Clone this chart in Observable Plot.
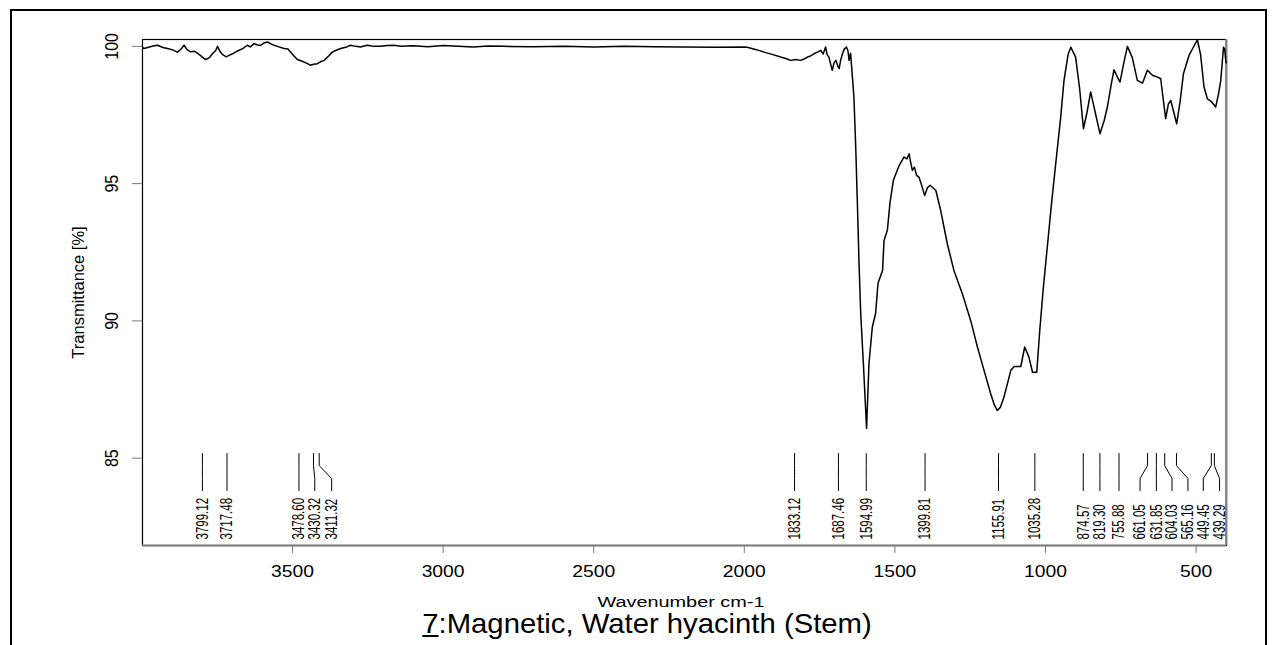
<!DOCTYPE html>
<html><head><meta charset="utf-8">
<script src="https://cdn.jsdelivr.net/npm/d3@7"></script>
<script src="https://cdn.jsdelivr.net/npm/@observablehq/plot@0.6"></script>
<style>
html,body{margin:0;padding:0;background:#fff;}
#wrap{position:relative;width:1276px;height:645px;overflow:hidden;font-family:"Liberation Sans",Arial,sans-serif;}
#border{position:absolute;left:10px;top:9px;width:1257px;height:700px;border:2px solid #000;box-sizing:border-box;}
#chart{position:absolute;left:0;top:0;}
#caption{position:absolute;left:646.7px;top:610px;font-size:28px;line-height:28px;white-space:nowrap;transform:translateX(-50%) scaleX(1.045);color:#000;}
</style>
</head><body>
<div id="wrap"><div id="border"></div><div id="chart"></div>
<div id="caption"><u>7</u>:Magnetic, Water hyacinth (Stem)</div></div>
<script>
const wavenumber = [3997,3993,3975,3960,3948,3930,3915,3900,3882,3870,3860,3850,3838,3825,3810,3798,3788,3775,3766,3755,3749,3740,3733,3720,3711,3695,3683,3665,3650,3640,3628,3615,3606,3595,3583,3570,3561,3545,3528,3515,3506,3495,3484,3470,3462,3450,3440,3430,3417,3405,3395,3380,3368,3355,3340,3320,3307,3290,3274,3260,3251,3230,3207,3185,3163,3140,3100,3050,3000,2950,2900,2850,2800,2700,2600,2500,2400,2300,2200,2100,2000,1990,1960,1934,1905,1879,1860,1846,1830,1813,1800,1790,1780,1769,1755,1746,1738,1730,1725,1719,1712,1708,1702,1696,1690,1685,1680,1674,1668,1661,1656,1652,1647,1636,1630,1624.5,1619,1613.5,1604.6,1594,1586,1575,1564,1556,1541,1536,1525,1516,1505,1486,1470,1460,1453,1448,1442,1435,1428,1420,1410,1401,1392,1383,1364,1348,1326,1304,1276,1248,1226,1204,1182,1170,1160,1150,1138,1115,1104,1082,1069,1055,1043,1029,1019,1008,994,980,966,949.5,938.5,925,916,900,887,874,862,850,835,819,805,794.5,782,772.5,762,752.6,740,728,712,695,678,661.6,645,628,617.5,601,592,584,574,564.4,553,542,523.5,510,495.6,485,473.7,462.4,450,435,425,418,409,405,401.6,400];
const transmittance = [99.95,99.92,99.98,100.02,100.04,99.96,99.92,99.88,99.79,99.90,100.04,99.88,99.80,99.82,99.71,99.60,99.52,99.60,99.73,99.85,100.00,99.80,99.71,99.62,99.67,99.75,99.83,99.92,100.04,99.98,100.10,100.05,100.04,100.12,100.16,100.08,100.04,99.98,99.92,99.90,99.79,99.65,99.52,99.47,99.43,99.37,99.31,99.35,99.37,99.45,99.49,99.65,99.79,99.86,99.92,99.98,100.04,100.00,99.98,100.02,100.04,100.00,100.00,100.03,100.04,100.00,100.02,99.99,100.03,100.00,99.98,100.01,100.00,99.99,100.00,99.98,100.00,99.99,99.98,99.97,99.98,99.97,99.88,99.79,99.70,99.61,99.55,99.49,99.52,99.49,99.55,99.61,99.65,99.73,99.80,99.85,99.72,99.98,99.70,99.61,99.30,99.13,99.40,99.49,99.30,99.19,99.50,99.73,99.90,99.98,99.85,99.49,99.75,98.15,96.33,94.28,92.10,90.27,88.45,86.08,88.45,89.77,90.27,91.37,91.84,92.93,93.30,94.33,95.12,95.66,95.97,95.90,96.09,95.80,95.48,95.60,95.30,95.24,94.90,94.57,94.85,94.94,94.75,94.03,92.81,91.84,90.99,90.00,89.05,88.20,87.35,86.95,86.74,86.85,87.22,88.20,88.34,88.34,89.05,88.68,88.13,88.13,89.65,91.11,92.69,94.27,95.73,97.42,98.76,99.70,99.97,99.61,98.50,97.00,97.60,98.34,97.60,96.82,97.30,97.79,98.60,99.15,98.90,98.70,99.40,100.00,99.60,98.76,98.66,99.13,98.95,98.88,98.82,97.37,97.90,98.03,97.60,97.18,98.00,99.00,99.67,99.95,100.24,99.70,98.52,98.09,98.00,97.79,98.30,98.76,99.97,99.90,99.49,99.40];
const peaks = [3799.12,3717.48,3478.60,3430.32,3411.32,1833.12,1687.46,1594.99,1399.81,1155.91,1035.28,874.57,819.30,755.88,661.05,631.85,604.03,565.16,449.45,439.29];
const peakLabelAt = [3799.12,3717.48,3478.60,3426,3370,1833.12,1687.46,1594.99,1399.81,1155.91,1035.28,874.57,819.30,755.88,686,631.85,580,527,476,422];
const xTicks = [3500,3000,2500,2000,1500,1000,500];
const yTicks = [85,90,95,100];

const spectrum = wavenumber.map((w,i)=>({wn:w, t:transmittance[i]}));
const LINE_TOP = 85.17, BEND1 = 84.73, BEND2 = 84.26, LINE_BOT = 83.82, LABEL_Y = 82.04;
const connectors = peaks.flatMap((p,i)=>[
  {k:i, wn:p, t:LINE_TOP},{k:i, wn:p, t:BEND1},
  {k:i, wn:peakLabelAt[i], t:BEND2},{k:i, wn:peakLabelAt[i], t:LINE_BOT}]);
const labels = peaks.map((p,i)=>({wn:peakLabelAt[i], txt:p.toFixed(2)}));

const chart = Plot.plot({
  width:1276, height:645,
  marginLeft:142, marginRight:50, marginTop:39, marginBottom:100,
  style:{fontFamily:'"Liberation Sans",Arial,sans-serif', color:"#000", background:"transparent"},
  x:{domain:[3997,400], range:[142.3,1225.7]},
  y:{domain:[81.82,100.25]},
  marks:[
    Plot.frame({stroke:"#000", strokeWidth:1.2}),
    Plot.ruleX([400],{stroke:"#808080", strokeWidth:2.2}),
    Plot.ruleY([81.82],{stroke:"#808080", strokeWidth:2.2}),
    Plot.axisY(yTicks,{tickSize:10, tickFormat:()=>"", label:null, stroke:"#777"}),
    Plot.axisX(xTicks,{tickSize:8, tickFormat:()=>"", label:null, stroke:"#777"}),
    Plot.text(xTicks,{x:d=>d, text:d=>String(d), frameAnchor:"bottom", dy:20, fontSize:16.5, textAnchor:"middle", lineAnchor:"top"}),
    Plot.text(yTicks,{y:d=>d, text:d=>String(d), frameAnchor:"left", dx:-31, rotate:-90, fontSize:16, textAnchor:"middle", lineAnchor:"middle"}),
    Plot.text(["Transmittance [%]"],{text:d=>d, frameAnchor:"left", dx:-64, rotate:-90, fontSize:16.5, textAnchor:"middle", lineAnchor:"middle"}),
    Plot.text(["Wavenumber cm-1"],{text:d=>d, frameAnchor:"bottom", dx:-3.5, dy:61, fontSize:14, textAnchor:"middle", lineAnchor:"bottom"}),
    Plot.line(connectors,{x:"wn", y:"t", z:"k", stroke:"#000", strokeWidth:1}),
    Plot.text(labels,{x:"wn", y:()=>LABEL_Y, text:"txt", rotate:-90, textAnchor:"start", lineAnchor:"middle", fontSize:11.5}),
    Plot.line(spectrum,{x:"wn", y:"t", stroke:"#000", strokeWidth:1.5, curve:"linear"})
  ]
});
document.getElementById("chart").appendChild(chart);

// stretch texts around their own centre (in local coordinates), keeping their position
function stretchNode(node, sx, sy){
  try {
    const bb = node.getBBox();
    const cx = bb.x + bb.width/2, cy = bb.y + bb.height/2;
    const t = node.getAttribute("transform") || "";
    node.setAttribute("transform", `${t} translate(${cx},${cy}) scale(${sx},${sy}) translate(${-cx},${-cy})`);
  } catch (e) {}
}
const xTickStr = xTicks.map(String), yTickStr = yTicks.map(String);
chart.querySelectorAll("text").forEach(node => {
  const s = (node.textContent || "").trim();
  const rotated = (node.getAttribute("transform") || "").includes("rotate");
  if (s === "Wavenumber cm-1") stretchNode(node, 1.42, 1);
  else if (!rotated && xTickStr.includes(s)) stretchNode(node, 1.17, 1);
  else if (rotated && yTickStr.includes(s)) stretchNode(node, 1, 1.2);
  else if (rotated && /^\d+\.\d\d$/.test(s)) stretchNode(node, 1, 1.4);
});
</script>
</body></html>
